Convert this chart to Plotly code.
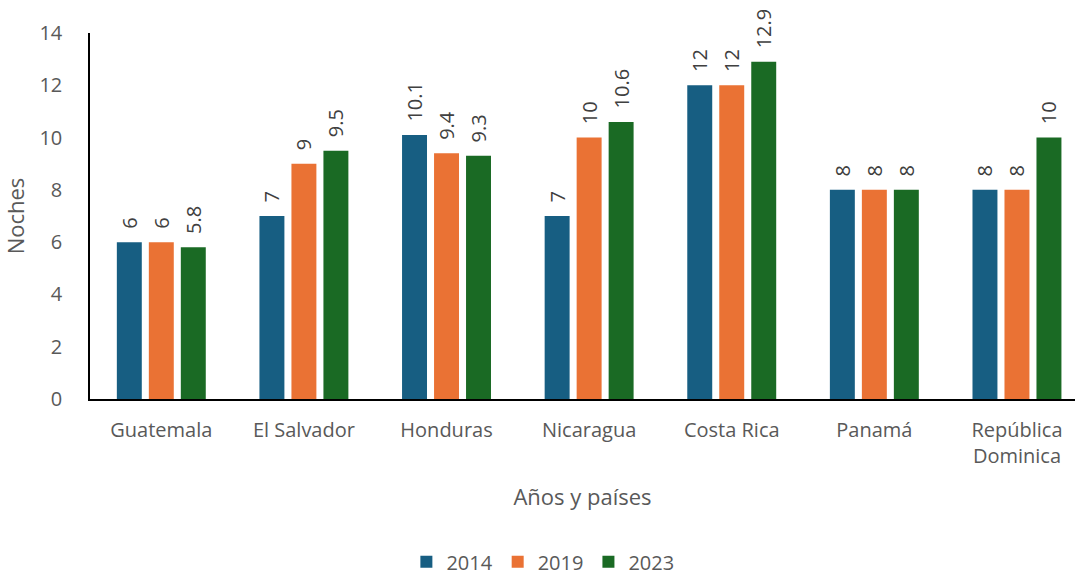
import plotly.graph_objects as go

categories = ["Guatemala", "El Salvador", "Honduras", "Nicaragua", "Costa Rica", "Panamá", "República<br>Dominica"]
years = ["2014", "2019", "2023"]
values_2014 = [6, 7, 10.1, 7, 12, 8, 8]
values_2019 = [6, 9, 9.4, 10, 12, 8, 8]
values_2023 = [5.8, 9.5, 9.3, 10.6, 12.9, 8, 10]
colors = ["#175E82", "#EA7234", "#1A6A24"]

FONT = "'Open Sans', sans-serif"
fig = go.Figure()
for name, vals, col in zip(years, [values_2014, values_2019, values_2023], colors):
    fig.add_trace(go.Bar(
        x=categories, y=vals, name=name,
        marker=dict(color=col, line=dict(width=0)),
        text=["\u00a0\u00a0" + f"{v:g}" for v in vals], textposition="outside", textangle=-90,
        textfont=dict(size=20, color="#404040", family=FONT),
        cliponaxis=False,
    ))

fig.update_layout(
    width=1075, height=578,
    margin=dict(l=90, r=0, t=33, b=179, autoexpand=False),
    paper_bgcolor="white", plot_bgcolor="white",
    barmode="group", bargap=0.327, bargroupgap=0.22,
    font=dict(family=FONT, color="#595959"),
    uniformtext=dict(minsize=20, mode="show"),
    xaxis=dict(
        range=[-0.5, 6.407], showline=True, linecolor="#000000", linewidth=1.5,
        tickfont=dict(size=20, color="#595959"), ticks="", ticklabelstandoff=12,
        automargin=False,
        title=dict(text="Años y países", font=dict(size=22, color="#595959"), standoff=22),
    ),
    yaxis=dict(
        range=[0, 14], dtick=2, showgrid=False, zeroline=False,
        showline=True, linecolor="#000000", linewidth=1.5,
        tickfont=dict(size=20, color="#595959"), ticks="", ticklabelstandoff=22,
        automargin=False,
        title=dict(text="Noches", font=dict(size=22, color="#595959"), standoff=14),
    ),
    legend=dict(
        orientation="h", xref="container", yref="container",
        x=0.505, xanchor="center", y=0.028, yanchor="middle",
        font=dict(size=20, color="#595959"), traceorder="normal",
        itemwidth=30,
    ),
    showlegend=True,
)

fig.write_html("out.html", config={"displayModeBar": False},
               post_script="document.body.style.margin='0';")
